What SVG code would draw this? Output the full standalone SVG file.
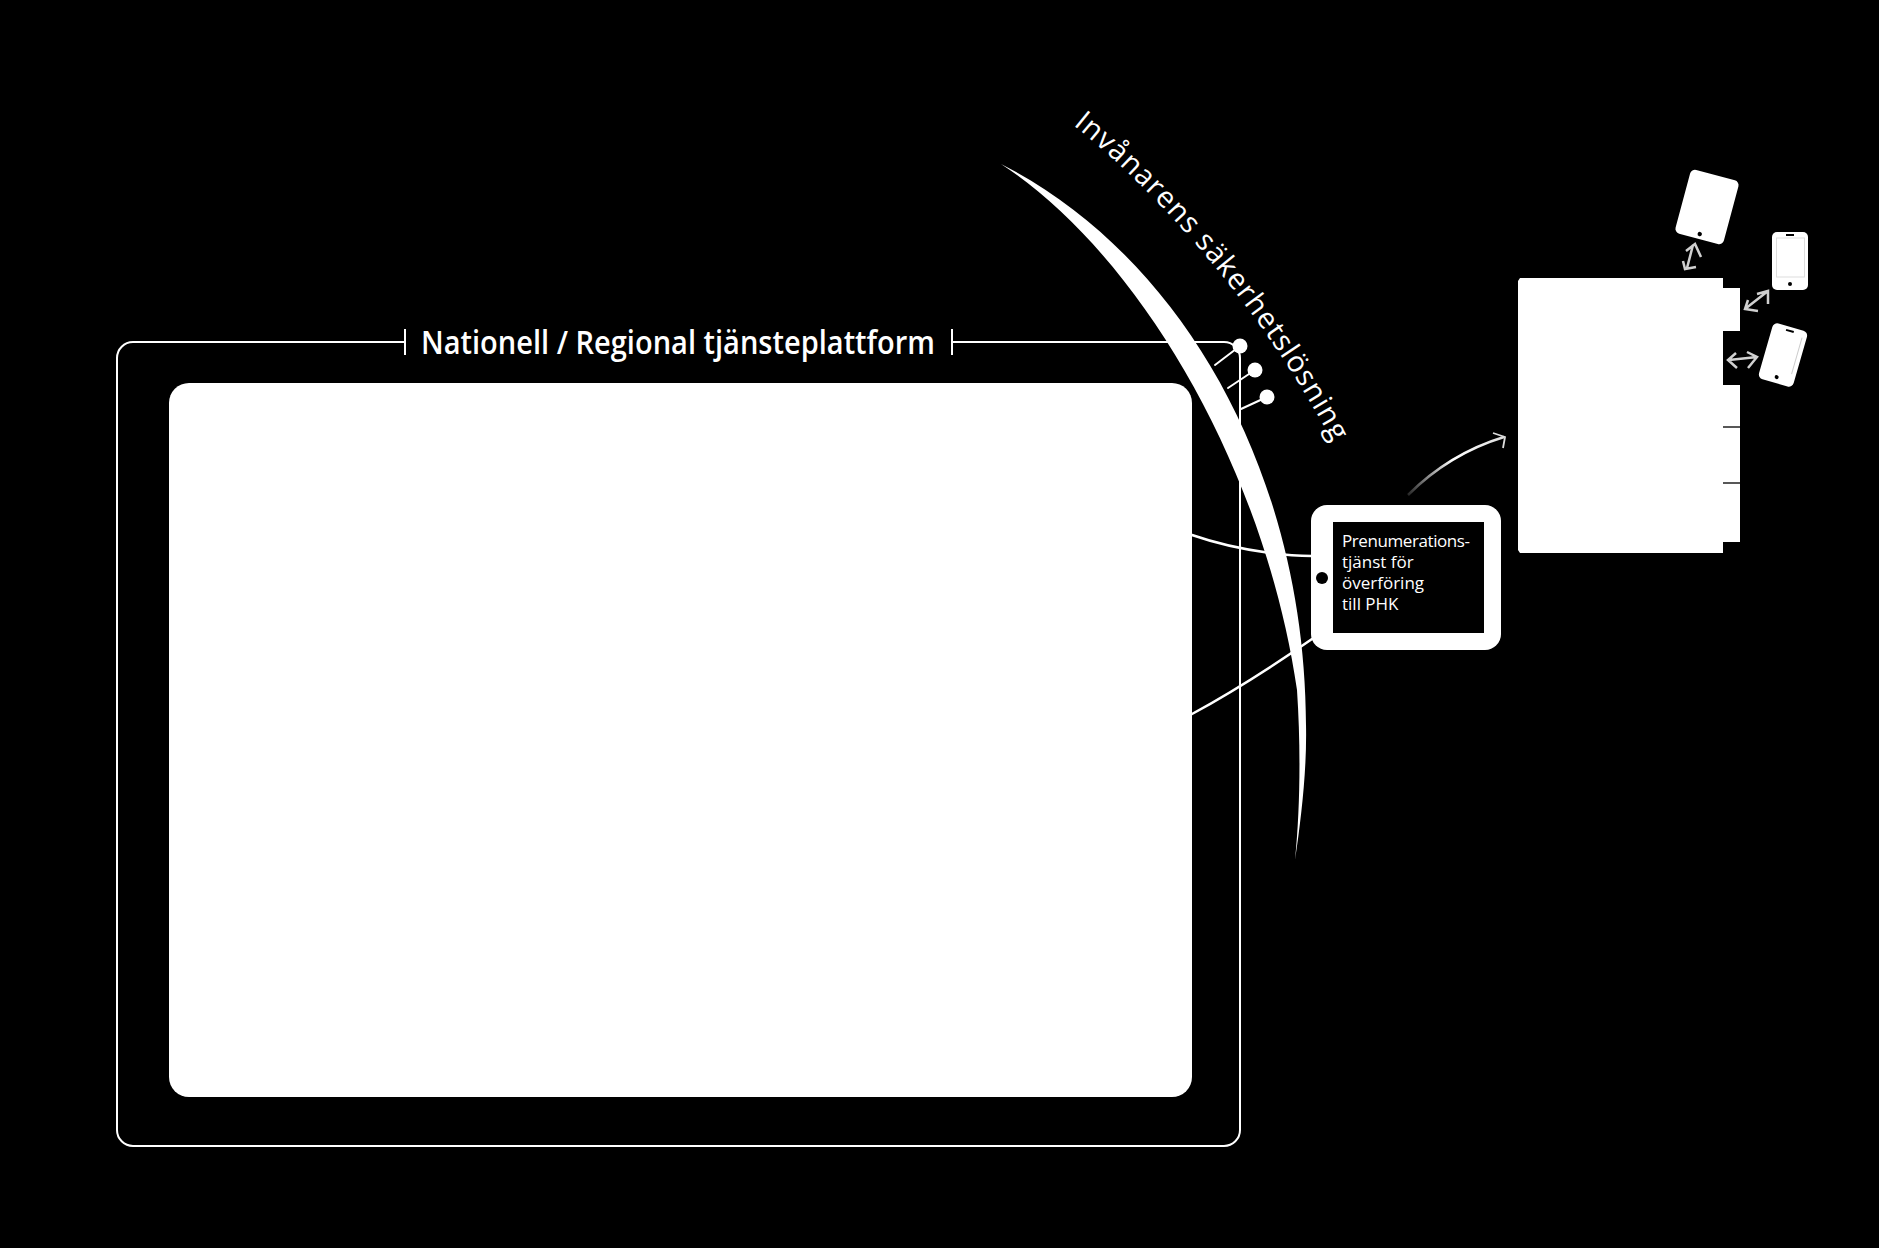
<svg xmlns="http://www.w3.org/2000/svg" width="1879" height="1248" viewBox="0 0 1879 1248">
<defs>
<style>
.t{font-family:"Open Sans","Noto Sans",sans-serif;fill:#fff}
.w{fill:#fff}
.l{fill:none;stroke:#fff;stroke-width:2}
.c{fill:none;stroke:#fff;stroke-width:2.5;stroke-linecap:round}
.g{fill:none;stroke:#d0d0d0;stroke-width:2.5}
</style>
<linearGradient id="fade" gradientUnits="userSpaceOnUse" x1="1408" y1="495" x2="1505" y2="437">
<stop offset="0" stop-color="#fff" stop-opacity="0.15"/><stop offset="0.5" stop-color="#fff"/><stop offset="1" stop-color="#ddd"/>
</linearGradient>
<path id="arcText" d="M1073,125 C1165,198 1268,318 1335,447 L1362,500"/>
</defs>
<rect width="1879" height="1248" fill="#000"/>
<g id="platform">
<rect class="l" x="117" y="342" width="1123" height="804" rx="16"/>
<rect x="404" y="325" width="550" height="34" fill="#000"/>
<path class="l" d="M405,329V355M952,329V355"/>
<path class="l" d="M135,342H405M952,342H1215"/>
<text class="t" x="421" y="354" font-size="32" font-weight="600" textLength="514" lengthAdjust="spacingAndGlyphs">Nationell / Regional tjänsteplattform</text>
<rect class="w" x="169" y="383" width="1023" height="714" rx="20"/>
</g>
<g id="connectors">
<path class="c" d="M1192,535C1215,543 1240,549 1270,553C1285,555 1298,556 1312,556"/>
<path class="c" d="M1192,714C1225,696 1260,675 1312,639"/>
<path class="c" d="M1215,365L1240,346M1228,388L1255,370M1241,409L1267,397" style="stroke-width:2"/>
<path d="M1408,495C1435,468 1468,448 1504,437" fill="none" stroke="url(#fade)" stroke-width="2.5"/>
<path d="M1493,433L1505,437L1503,448" fill="none" stroke="#ddd" stroke-width="1.8"/>
<path class="g" d="M1693,245L1687,268M1686,251L1695,244L1701,257M1683,261L1685,269L1696,267"/>
<path class="g" d="M1768,291L1745,309M1757,294L1768,291L1768,304M1748,300L1745,309L1758,311"/>
<path class="g" d="M1729,360L1757,357M1736,353L1728,360L1737,368M1747,352L1757,357L1748,368"/>
</g>
<g id="security">
<path class="w" d="M1001,164C1180,255 1305,470 1306,725C1307,770 1301,820 1295,860C1300,810 1301,750 1297,690C1265,470 1140,255 1001,164Z"/>
<circle class="w" cx="1240" cy="346" r="7.5"/>
<circle class="w" cx="1255" cy="370" r="7.5"/>
<circle class="w" cx="1267" cy="397" r="7.5"/>
<text class="t" font-size="29" font-weight="500" letter-spacing="1"><textPath href="#arcText">Invånarens säkerhetslösning</textPath></text>
</g>
<g id="subscription">
<rect class="w" x="1311" y="505" width="190" height="145" rx="16"/>
<rect x="1333" y="522" width="151" height="111" fill="#000"/>
<circle cx="1322" cy="578" r="6" fill="#000"/>
<text class="t" font-size="17" font-weight="500"><tspan x="1342" y="547" textLength="128">Prenumerations-</tspan><tspan x="1342" y="568">tjänst för</tspan><tspan x="1342" y="589">överföring</tspan><tspan x="1342" y="610">till PHK</tspan></text>
</g>
<g id="records">
<path class="w" d="M1520,278H1723V288H1740V331H1723V385H1740V542H1723V553H1520L1518,550V281Z"/>
<path d="M1723,427H1740M1723,483H1740" stroke="#222" stroke-width="1.5" fill="none"/>
</g>
<g id="tablet" transform="rotate(15 1707 207)">
<rect class="w" x="1682" y="174" width="50" height="66" rx="5"/>
<circle cx="1707" cy="235" r="2.2" fill="#000"/>
</g>
<g id="phone1">
<rect class="w" x="1772" y="232" width="36" height="58" rx="5"/>
<rect x="1776.5" y="238" width="28" height="39" fill="none" stroke="#ddd"/>
<rect x="1786" y="234" width="8" height="2" fill="#000"/>
<circle cx="1790" cy="284" r="2" fill="#000"/>
</g>
<g id="phone2" transform="rotate(16 1783 355)">
<rect class="w" x="1765" y="326" width="36" height="58" rx="5"/>
<path d="M1796.5,333V371" stroke="#ccc" fill="none"/>
<rect x="1779" y="329" width="8" height="2" fill="#000"/>
<circle cx="1783" cy="378" r="2" fill="#000"/>
</g>
</svg>
